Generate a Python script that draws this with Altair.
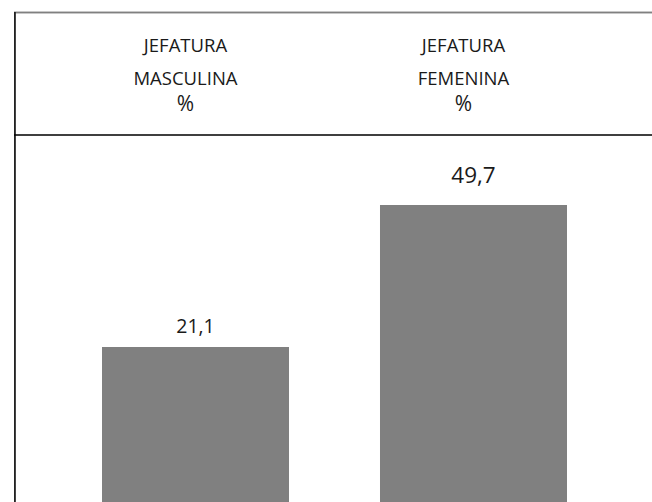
import altair as alt
import pandas as pd

# Household headship: share (%) by sex of the head of household
KEYS = ["Masculina", "Femenina"]
HEADERS = [["JEFATURA", "MASCULINA"], ["JEFATURA", "FEMENINA"]]
UNITS = ["%", "%"]
VALUES = [21.1, 49.7]

df = pd.DataFrame({
    "key": KEYS,
    "header": HEADERS,
    "unit": UNITS,
    "value": VALUES,
    "label": [f"{v:.1f}".replace(".", ",") for v in VALUES],
})

FONT = "Open Sans"
W, H = 638, 490
Y_DOMAIN = [-10.1, 88.6]

x = alt.X("key:N", sort=KEYS, axis=None,
          scale=alt.Scale(domain=KEYS, range=[88, 553], paddingInner=0.3273, paddingOuter=0))
y_scale = alt.Scale(domain=Y_DOMAIN, zero=False, nice=False)

base = alt.Chart(df)

bars = base.mark_bar(color="#808080").encode(
    x=x,
    y=alt.Y("value:Q", scale=y_scale, axis=None),
    y2=alt.datum(Y_DOMAIN[0]),
)

label_f = base.transform_filter(alt.datum.key == "Femenina").mark_text(
    font=FONT, fontSize=22.5, color="#1a1a1a", baseline="alphabetic", dy=-22
).encode(x=x, y=alt.Y("value:Q", scale=y_scale, axis=None), text="label:N")

label_m = base.transform_filter(alt.datum.key == "Masculina").mark_text(
    font=FONT, fontSize=19.5, color="#1a1a1a", baseline="alphabetic", dy=-14
).encode(x=x, y=alt.Y("value:Q", scale=y_scale, axis=None), text="label:N")

header = base.mark_text(
    font=FONT, fontSize=18.5, color="#1a1a1a", baseline="alphabetic", lineHeight=33, dx=-10
).encode(x=x, y=alt.value(39.7), text="header")

unit = base.mark_text(
    font=FONT, fontSize=21, color="#1a1a1a", baseline="alphabetic", dx=-10
).encode(x=x, y=alt.value(98.5), text="unit:N")

top_rule = base.mark_rule(color="#808080", strokeWidth=1.5).encode(
    x=alt.value(0), x2=alt.value(W), y=alt.value(0.6)
)
left_rule = base.mark_rule(color="#222222", strokeWidth=1.6).encode(
    x=alt.value(0.8), y=alt.value(0), y2=alt.value(H)
)
header_rule = base.mark_rule(color="#000000", strokeWidth=1.2).encode(
    x=alt.value(0), x2=alt.value(W), y=alt.value(123)
)

chart = alt.layer(
    bars, label_f, label_m, header, unit, top_rule, left_rule, header_rule
).properties(
    width=W, height=H,
    padding={"left": 14, "top": 12, "right": 0, "bottom": 0},
    autosize=alt.AutoSizeParams(type="none"),
).configure_view(stroke=None).configure(background="white")

chart.save("out.html", embed_options={"renderer": "svg", "actions": False})
